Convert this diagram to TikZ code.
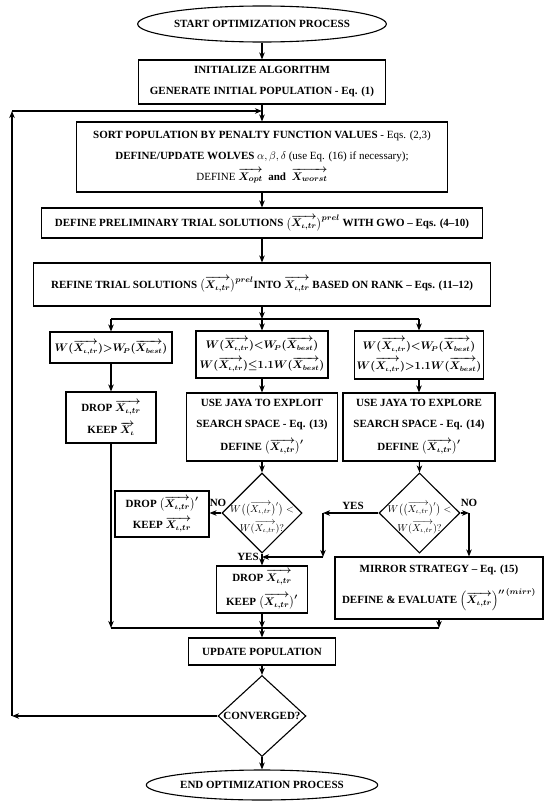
\documentclass[tikz,border=0pt]{standalone}
\usepackage{fontspec}
\setmainfont{Liberation Serif}
\usepackage{amsmath}
\usetikzlibrary{shapes.geometric,arrows.meta,calc}
\newcommand{\xit}{\overrightarrow{X_{\iota,tr}}}
\newcommand{\xbest}{\overrightarrow{X_{best}}}
\newcommand{\boxfont}{\fontsize{11}{21}\selectfont\bfseries\boldmath\lineskiplimit=-100pt\lineskip=0pt}
\newcommand{\mathboxfont}{\fontsize{10.5}{20}\selectfont\bfseries\boldmath\lineskiplimit=-100pt\lineskip=0pt}
\newcommand{\diafont}{\fontsize{10}{19}\selectfont\mdseries\unboldmath\lineskiplimit=-100pt\lineskip=0pt}
\begin{document}
\begin{tikzpicture}[x=1pt,y=-1pt,line width=1.1pt,
  box/.style={draw,rectangle,inner sep=0pt,align=center,font=\boxfont},
  mbox/.style={draw,rectangle,inner sep=0pt,align=center,font=\mathboxfont},
  ell/.style={draw,ellipse,inner sep=0pt,align=center,font=\boxfont},
  dia/.style={draw,diamond,inner sep=0pt},
  dtext/.style={inner sep=0pt,align=center,font=\diafont},
  lbl/.style={inner sep=0pt,font=\boxfont},
  arr/.style={-{Stealth[length=7pt,width=5.5pt,inset=2pt]}}]
\useasboundingbox (0,0) rectangle (550,803);

\node[ell,minimum width=206pt,minimum height=36pt] (start) at (262,24) {START OPTIMIZATION PROCESS};
\node[box,minimum width=247pt,minimum height=44pt] (init) at (262,82) {INITIALIZE ALGORITHM\\GENERATE INITIAL POPULATION - Eq. (1)};
\node[box,minimum width=371pt,minimum height=70pt] (sort) at (262,157) {SORT POPULATION BY PENALTY FUNCTION VALUES {\mdseries - Eqs. (2,3)}\\DEFINE/UPDATE WOLVES {\unboldmath$\alpha,\beta,\delta$} {\mdseries (use Eq. (16) if necessary);}\\{\mdseries DEFINE} $\overrightarrow{X_{opt}}$ \ and \ $\overrightarrow{X_{worst}}$};
\node[box,minimum width=441pt,minimum height=30pt] (prel) at (262,223) {DEFINE PRELIMINARY TRIAL SOLUTIONS $\bigl(\xit\bigr)^{prel}$ WITH GWO -- Eqs. (4--10)};
\node[box,minimum width=457pt,minimum height=43pt] (refine) at (262,284.5) {REFINE TRIAL SOLUTIONS $\bigl(\xit\bigr)^{prel}$INTO $\xit$ BASED ON RANK -- Eqs. (11--12)};

\node[mbox,minimum width=122pt,minimum height=31pt] (c1) at (111,347.5) {$W(\xit){>}W_{\!P}(\xbest)$};
\node[mbox,minimum width=132pt,minimum height=47pt] (c2) at (262,354.5) {$W(\xit){<}W_{\!P}(\xbest)$\\$W(\xit){\le}1.1W(\xbest)$};
\node[mbox,minimum width=129pt,minimum height=48pt] (c3) at (419,355) {$W(\xit){<}W_{\!P}(\xbest)$\\$W(\xit){>}1.1W(\xbest)$};

\node[box,minimum width=90pt,minimum height=51pt] (d1) at (111,417.5) {DROP $\xit$\\[1pt]KEEP $\overrightarrow{X_{\iota}}$};
\node[box,minimum width=151pt,minimum height=68pt] (jx) at (262,427) {USE JAYA TO EXPLOIT\\SEARCH SPACE - Eq. (13)\\[2pt]DEFINE $\bigl(\xit\bigr)'$};
\node[box,minimum width=152pt,minimum height=68pt] (jr) at (419,427) {USE JAYA TO EXPLORE\\SEARCH SPACE - Eq. (14)\\[2pt]DEFINE $\bigl(\xit\bigr)'$};

\node[dia,minimum width=80pt,minimum height=80pt] (mdia) at (262,513) {};
\node[dtext] (mdiat) at (262,518) {$W\bigl(\bigl(\xit\bigr)'\bigr)<$\\$W(\xit)?$};
\node[dia,minimum width=81pt,minimum height=80pt] (rdia) at (419.5,513) {};
\node[dtext] (rdiat) at (419.5,518) {$W\bigl(\bigl(\xit\bigr)'\bigr)<$\\$W(\xit)?$};

\node[box,minimum width=94pt,minimum height=46pt] (lbox) at (162,514) {DROP $\bigl(\xit\bigr)'$\\KEEP $\xit$};
\node[box,minimum width=91pt,minimum height=47pt] (mdrop) at (262,589.5) {DROP $\xit$\\[3pt]KEEP $\bigl(\xit\bigr)'$};
\node[box,minimum width=208pt,minimum height=62pt] (mirror) at (439,588) {MIRROR STRATEGY -- Eq. (15)\\[10pt]DEFINE \& EVALUATE $\left(\xit\right)^{\prime\prime\,(mirr)}$};

\node[box,minimum width=147pt,minimum height=27pt] (upd) at (262,651.5) {UPDATE POPULATION};
\node[dia,minimum width=88pt,minimum height=81pt] (conv) at (262,716) {};
\node[lbl] (convt) at (262,716) {CONVERGED?};
\node[ell,minimum width=193pt,minimum height=30pt] (end) at (262,785) {END OPTIMIZATION PROCESS};

\node[lbl] (noA) at (218,503) {NO};
\node[lbl] (yesA) at (248,557) {YES};
\node[lbl] (yesB) at (353,506) {YES};
\node[lbl] (noB) at (469,503) {NO};

\coordinate (lb) at (12,716);
\coordinate (lt) at (12,111);
\coordinate (lr) at (262,111);
\coordinate (s1) at (111,319);
\coordinate (s2) at (262,319);
\coordinate (s3) at (419,319);
\coordinate (y1) at (323,513);
\coordinate (y2) at (323,557);
\coordinate (y3) at (262,557);
\coordinate (n1) at (469,513);
\coordinate (m1) at (111,628);
\coordinate (m2) at (262,628);
\coordinate (m3) at (mirror.south |- m1);

\draw[arr] (start) -- (init);
\draw[arr] (init) -- (sort);
\draw[arr] (conv.west) -- (lb);
\draw[arr] (lb) -- (lt);
\draw[arr] (lt) -- (lr);
\draw[arr] (sort) -- (prel);
\draw[arr] (prel) -- (refine);
\draw[arr] (refine.south) -- (s2);
\draw (s1) -- (s3);
\draw[arr] (s1) -- (c1);
\draw[arr] (s2) -- (c2);
\draw[arr] (s3) -- (c3);
\draw[arr] (c1) -- (d1);
\draw[arr] (c2) -- (jx);
\draw[arr] (c3) -- (jr);
\draw[arr] (jx) -- (mdia);
\draw[arr] (jr) -- (rdia.north);
\draw[arr] (mdia.west) -- (mdia.west -| lbox.east);
\draw[arr] (mdia.south) -- (mdrop.north);
\draw[arr] (rdia.west) -- (y1);
\draw[arr] (y1) -- (y2);
\draw[arr] (y2) -- (y3);
\draw[arr] (rdia.east) -- (n1);
\draw[arr] (n1) -- (n1 |- mirror.north);
\draw (m1) -- (m3);
\draw[arr] (d1.south) -- (m1);
\draw[arr] (mdrop.south) -- (m2);
\draw[arr] (mirror.south) -- (m3);
\draw[arr] (m2) -- (upd);
\draw[arr] (upd) -- (conv);
\draw[arr] (conv) -- (end);
\end{tikzpicture}
\end{document}
